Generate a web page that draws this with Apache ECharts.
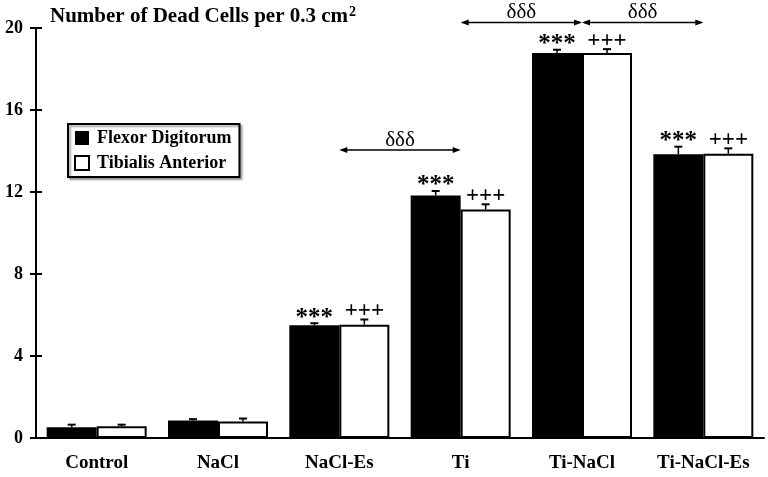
<!DOCTYPE html>
<html>
<head>
<meta charset="utf-8">
<script src="https://cdn.jsdelivr.net/npm/echarts@6/dist/echarts.min.js"></script>
<style>html,body{margin:0;padding:0;background:#fff}#c{width:768px;height:477px}</style>
</head>
<body>
<div id="c"></div>
<script>
const categories = ['Control', 'NaCl', 'NaCl-Es', 'Ti', 'Ti-NaCl', 'Ti-NaCl-Es'];
const fdMean = [0.53, 0.85, 5.5, 11.83, 18.78, 13.84];
const fdErr  = [0.12, 0.07, 0.1, 0.22, 0.16, 0.37];
const taMean = [0.57, 0.8, 5.53, 11.15, 18.78, 13.87];
const taErr  = [0.08, 0.15, 0.25, 0.25, 0.19, 0.26];
const fdSig  = ['', '', '***', '***', '***', '***'];
const taSig  = ['', '', '+++', '+++', '+++', '+++'];
const arrowFrom  = [2, 3, 4];
const arrowTo    = [3, 4, 5];
const arrowY     = [14.05, 20.27, 20.27];
const arrowLabel = ['δδδ', 'δδδ', 'δδδ'];
const yTicks = [0, 4, 8, 12, 16, 20];

const FONT = '"Liberation Serif", "Times New Roman", serif';
const chart = echarts.init(document.getElementById('c'));

function errRender(sigArr, offset, sigStyle) {
  return function (params, api) {
    const i = api.value(0);
    const base = api.coord([i, api.value(1)]);
    const top = api.coord([i, api.value(2)]);
    const x = base[0] + offset;
    const children = [
      { type: 'line', shape: { x1: x, y1: base[1], x2: x, y2: top[1] }, style: { stroke: '#000', lineWidth: 1.5 } },
      { type: 'line', shape: { x1: x - 4, y1: top[1], x2: x + 4, y2: top[1] }, style: { stroke: '#000', lineWidth: 2 } }
    ];
    const s = sigArr[params.dataIndex];
    if (s) {
      children.push({ type: 'text', style: Object.assign({ text: s, x: x, y: top[1] + sigStyle.dy, align: 'center', verticalAlign: 'middle', fill: '#000', fontFamily: FONT }, sigStyle.font) });
    }
    return { type: 'group', children: children };
  };
}

function arrowRender(params, api) {
  const p1 = api.coord([api.value(0), api.value(2)]);
  const p2 = api.coord([api.value(1), api.value(2)]);
  const y = p1[1];
  const L = 8, H = 3;
  return {
    type: 'group',
    children: [
      { type: 'line', shape: { x1: p1[0] + 2, y1: y, x2: p2[0] - 2, y2: y }, style: { stroke: '#000', lineWidth: 1.5 } },
      { type: 'polygon', shape: { points: [[p1[0], y], [p1[0] + L, y - H], [p1[0] + L, y + H]] }, style: { fill: '#000' } },
      { type: 'polygon', shape: { points: [[p2[0], y], [p2[0] - L, y - H], [p2[0] - L, y + H]] }, style: { fill: '#000' } },
      { type: 'text', style: { text: arrowLabel[params.dataIndex], x: (p1[0] + p2[0]) / 2, y: y + 1, align: 'center', verticalAlign: 'bottom', fill: '#000', fontFamily: FONT, fontSize: 21 } }
    ]
  };
}

const option = {
  animation: false,
  backgroundColor: '#fff',
  title: {
    text: 'Number of Dead Cells per 0.3 cm{sup|2}',
    left: 50, top: 5, padding: 0,
    textStyle: {
      fontFamily: FONT, fontWeight: 'bold', fontSize: 21, color: '#000',
      rich: { sup: { fontFamily: FONT, fontWeight: 'bold', fontSize: 14, color: '#000', padding: [0, 0, 10, 1] } }
    }
  },
  legend: {
    orient: 'vertical',
    left: 68, top: 124,
    padding: [5, 8, 5, 6],
    itemGap: 7,
    itemWidth: 14, itemHeight: 14,
    borderColor: '#000', borderWidth: 2,
    shadowColor: 'rgba(0,0,0,0.35)', shadowBlur: 2, shadowOffsetX: 2, shadowOffsetY: 2,
    backgroundColor: '#fff',
    textStyle: { fontFamily: FONT, fontWeight: 'bold', fontSize: 18, color: '#000', padding: [0, 0, 0, 3] },
    data: [
      { name: 'Flexor Digitorum', icon: 'rect', itemStyle: { color: '#000', borderColor: '#000', borderWidth: 0 } },
      { name: 'Tibialis Anterior', icon: 'rect', itemStyle: { color: '#fff', borderColor: '#000', borderWidth: 2 } }
    ]
  },
  grid: { left: 36, right: 4, top: 28, bottom: 39, containLabel: false },
  xAxis: {
    type: 'category',
    data: categories,
    axisLine: { lineStyle: { color: '#000', width: 2 } },
    axisTick: { show: false },
    axisLabel: { fontFamily: FONT, fontWeight: 'bold', fontSize: 19, color: '#000', margin: 16 }
  },
  yAxis: [
    {
      type: 'value', min: 0, max: 20, interval: 4, position: 'left',
      axisLine: { show: true, lineStyle: { color: '#000', width: 2 } },
      axisTick: { show: true, inside: false, length: 6, lineStyle: { color: '#000', width: 2 } },
      splitLine: { show: false },
      axisLabel: { fontFamily: FONT, fontWeight: 'bold', fontSize: 18, color: '#000', margin: 13,
        formatter: function (v) { return yTicks.indexOf(v) >= 0 ? String(v) : ''; } }
    },
    {
      type: 'value', min: 0, max: 20, interval: 4, position: 'left', offset: 0,
      axisLine: { show: true, lineStyle: { color: '#000', width: 2 } },
      axisTick: { show: true, inside: true, length: 6, lineStyle: { color: '#000', width: 2 } },
      splitLine: { show: false },
      axisLabel: { show: false }
    }
  ],
  series: [
    {
      name: 'Flexor Digitorum', type: 'bar', data: fdMean, barWidth: 50, barGap: '0%',
      itemStyle: { color: '#000' }
    },
    {
      name: 'Tibialis Anterior', type: 'bar', data: taMean, barWidth: 50, barGap: '0%',
      itemStyle: { color: '#fff', borderColor: '#000', borderWidth: 2 }
    },
    {
      type: 'custom', clip: false, silent: true, z: 5,
      data: categories.map((c, i) => [i, fdMean[i], fdMean[i] + fdErr[i]]),
      encode: { x: 0, y: [1, 2] },
      renderItem: errRender(fdSig, -25, { dy: -5, font: { fontSize: 25, fontWeight: 'bold' } })
    },
    {
      type: 'custom', clip: false, silent: true, z: 5,
      data: categories.map((c, i) => [i, taMean[i], taMean[i] + taErr[i]]),
      encode: { x: 0, y: [1, 2] },
      renderItem: errRender(taSig, 25, { dy: -8, font: { fontSize: 23, fontWeight: 'bold' } })
    },
    {
      type: 'custom', clip: false, silent: true, z: 5,
      data: arrowFrom.map((f, i) => [f, arrowTo[i], arrowY[i]]),
      encode: { x: [0, 1], y: 2 },
      renderItem: arrowRender
    }
  ]
};
chart.setOption(option);
</script>
</body>
</html>
